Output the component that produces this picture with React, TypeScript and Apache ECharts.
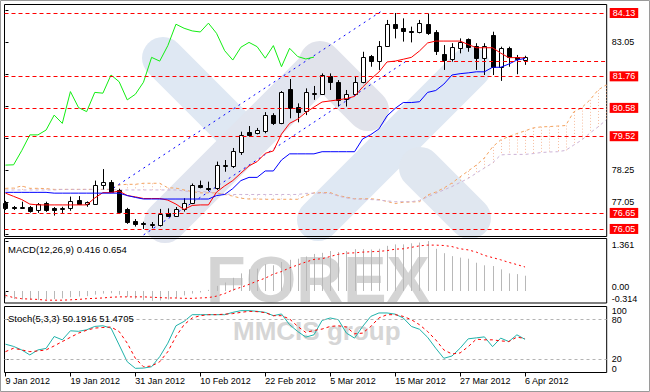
import React, { useEffect, useRef } from 'react';
import * as echarts from 'echarts';

const FONT = "'Liberation Sans', Arial, sans-serif";

// x range (bar index); bar 0 = 9 Jan 2012, bar 64 = 6 Apr 2012, cloud goes 26 bars ahead
const XMIN = -0.12;
const XMAX = 74.06;
const PMIN = 75.768;
const PMAX = 84.448;
const MACD_MIN = -0.327;
const MACD_MAX = 1.4305;

const tickBars = [0, 8, 16, 24, 32, 40, 48, 56, 64];
const tickLabels = ['9 Jan 2012', '19 Jan 2012', '31 Jan 2012', '10 Feb 2012', '22 Feb 2012', '5 Mar 2012', '15 Mar 2012', '27 Mar 2012', '6 Apr 2012'];

// open, high, low, close
const ohlc: number[][] = [
  [77.02, 77.10, 76.76, 76.84], [76.86, 76.91, 76.76, 76.85], [76.87, 77.07, 76.82, 76.88], [76.87, 76.91, 76.66, 76.72],
  [76.76, 77.02, 76.65, 76.98], [77.02, 77.07, 76.69, 76.76], [76.84, 76.87, 76.55, 76.76], [76.83, 76.88, 76.65, 76.84],
  [76.82, 77.26, 76.73, 77.11], [77.13, 77.28, 76.95, 76.98], [76.97, 77.08, 76.88, 77.06], [76.98, 77.86, 76.95, 77.70],
  [77.68, 78.29, 77.53, 77.80], [77.81, 77.88, 77.40, 77.42], [77.51, 77.55, 76.69, 76.70], [76.79, 76.84, 76.24, 76.32],
  [76.35, 76.42, 76.14, 76.22], [76.26, 76.32, 76.05, 76.24], [76.20, 76.31, 76.08, 76.22], [76.20, 76.80, 76.14, 76.61],
  [76.64, 76.82, 76.51, 76.55], [76.55, 76.87, 76.50, 76.79], [76.79, 77.20, 76.70, 77.03], [77.03, 77.75, 76.98, 77.70],
  [77.70, 77.86, 77.57, 77.61], [77.60, 77.82, 77.47, 77.59], [77.57, 78.57, 77.51, 78.44], [78.44, 78.63, 78.19, 78.45],
  [78.41, 79.08, 78.33, 78.98], [78.94, 79.69, 78.82, 79.57], [79.69, 79.90, 79.50, 79.57], [79.64, 79.83, 79.59, 79.75],
  [79.72, 80.42, 79.63, 80.31], [80.31, 80.38, 79.94, 80.00], [80.00, 81.21, 79.97, 81.19], [81.28, 81.66, 80.19, 80.59],
  [80.60, 80.75, 80.04, 80.44], [80.46, 81.31, 80.31, 81.16], [81.12, 81.40, 80.88, 81.13], [81.09, 81.87, 81.06, 81.81],
  [81.78, 81.87, 81.25, 81.56], [81.56, 81.62, 80.63, 80.88], [80.90, 81.25, 80.63, 81.09], [81.09, 81.75, 81.06, 81.54],
  [81.54, 82.68, 81.50, 82.47], [82.52, 82.56, 82.12, 82.33], [82.33, 83.08, 82.00, 82.91], [82.90, 83.87, 82.87, 83.71],
  [83.72, 84.13, 83.18, 83.56], [83.56, 83.93, 83.06, 83.46], [83.44, 83.62, 83.03, 83.42], [83.41, 83.87, 83.37, 83.75],
  [83.71, 84.11, 83.31, 83.37], [83.41, 83.49, 82.56, 82.72], [82.59, 82.93, 82.00, 82.37], [82.40, 83.00, 82.31, 82.85],
  [82.81, 83.18, 82.62, 83.03], [83.15, 83.18, 82.68, 82.87], [82.90, 83.00, 82.00, 82.44], [82.44, 83.00, 81.81, 82.91],
  [83.31, 83.43, 81.81, 82.12], [82.12, 82.87, 81.59, 82.81], [82.81, 82.87, 82.12, 82.50], [82.50, 82.56, 81.84, 82.41],
  [82.37, 82.53, 82.19, 82.48],
];

const tenkan = [
  77.39, 77.27, 77.15, 76.98, 76.95, 76.95, 76.95, 76.95, 76.95, 76.95,
  76.95, 77.21, 77.41, 77.41, 77.47, 77.30, 77.25, 77.19, 77.19, 77.19,
  77.13, 76.98, 76.78, 76.93, 76.95, 76.95, 77.43, 77.66, 77.86, 78.14,
  78.41, 78.57, 78.88, 78.97, 79.60, 80.00, 80.16, 80.41, 80.61, 80.80,
  80.84, 80.88, 80.93, 81.01, 81.36, 81.66, 81.92, 82.30, 82.33, 82.40,
  82.47, 82.71, 83.01, 83.08, 83.08, 83.08, 83.08, 82.95, 82.83, 82.83,
  82.83, 82.63, 82.46, 82.46, 82.45,
];

const kijun = [
  77.42, 77.42, 77.42, 77.42, 77.42, 77.42, 77.39, 77.39, 77.39, 77.39,
  77.39, 77.39, 77.39, 77.39, 77.39, 77.30, 77.23, 77.17, 77.17, 77.17,
  77.17, 77.17, 77.17, 77.17, 77.17, 77.17, 77.30, 77.34, 77.56, 77.86,
  77.98, 77.98, 78.22, 78.22, 78.63, 78.86, 78.86, 78.86, 78.86, 78.94,
  78.94, 78.94, 78.94, 78.94, 79.42, 79.58, 79.79, 80.28, 80.56, 80.78,
  80.78, 80.81, 81.16, 81.23, 81.47, 81.81, 81.86, 81.89, 81.93, 81.93,
  82.10, 82.10, 82.22, 82.37, 82.43,
];

const senkouA = [
  77.57, 77.58, 77.66, 77.57, 77.57, 77.56, 77.53, 77.53, 77.53, 77.53,
  77.53, 77.53, 77.53, 77.53, 77.70, 77.72, 77.72, 77.76, 77.76, 77.76,
  77.59, 77.58, 77.51, 77.45, 77.40, 77.40, 77.40, 77.34, 77.28, 77.20,
  77.17, 77.17, 77.16, 77.16, 77.16, 77.16, 77.16, 77.30, 77.40, 77.41,
  77.41, 77.30, 77.24, 77.18, 77.18, 77.18, 77.15, 77.08, 77.00, 77.05,
  77.06, 77.07, 77.32, 77.43, 77.58, 77.77, 78.00, 78.22, 78.44, 78.71,
  79.12, 79.38, 79.51, 79.62, 79.72, 79.83, 79.87, 79.88, 79.90, 79.92,
  80.43, 80.59, 80.88, 81.25, 81.44,
];

const senkouB = [
  77.51, 77.51, 77.51, 77.51, 77.51, 77.51, 77.51, 77.53, 77.53, 77.53,
  77.53, 77.53, 77.53, 77.53, 77.51, 77.51, 77.51, 77.51, 77.51, 77.51,
  77.51, 77.51, 77.47, 77.45, 77.45, 77.43, 77.40, 77.36, 77.34, 77.34,
  77.34, 77.34, 77.34, 77.34, 77.34, 77.34, 77.34, 77.38, 77.39, 77.39,
  77.38, 77.28, 77.21, 77.17, 77.16, 77.15, 77.13, 77.10, 77.07, 77.07,
  77.07, 77.12, 77.25, 77.38, 77.51, 77.64, 77.79, 77.94, 78.14, 78.33,
  78.52, 78.82, 78.84, 78.84, 78.84, 78.87, 78.91, 78.93, 78.94, 78.99,
  79.19, 79.38, 79.64, 79.87, 80.13,
];

const macdMain = [
  -0.20, -0.22, -0.23, -0.24, -0.24, -0.23, -0.22, -0.20, -0.17, -0.15,
  -0.14, -0.10, -0.07, -0.06, -0.10, -0.16, -0.21, -0.25, -0.27, -0.26,
  -0.23, -0.18, -0.12, -0.07, -0.04, 0.03, 0.14, 0.23, 0.36, 0.48,
  0.59, 0.61, 0.73, 0.70, 0.79, 0.85, 0.88, 0.94, 1.01, 1.04,
  1.09, 1.06, 1.09, 1.14, 1.14, 1.13, 1.15, 1.23, 1.27, 1.27,
  1.30, 1.32, 1.361, 1.15, 1.03, 0.95, 0.91, 0.88, 0.77, 0.70,
  0.68, 0.59, 0.48, 0.46, 0.416,
];

const macdSignal = [
  -0.12, -0.18, -0.21, -0.22, -0.23, -0.25, -0.25, -0.25, -0.24, -0.23,
  -0.21, -0.20, -0.19, -0.17, -0.16, -0.16, -0.16, -0.16, -0.17, -0.18,
  -0.19, -0.19, -0.20, -0.20, -0.19, -0.18, -0.14, -0.07, 0.03, 0.10,
  0.18, 0.27, 0.35, 0.46, 0.53, 0.63, 0.71, 0.79, 0.86, 0.88,
  0.94, 1.00, 1.03, 1.04, 1.06, 1.07, 1.08, 1.10, 1.14, 1.15,
  1.19, 1.23, 1.25, 1.25, 1.24, 1.21, 1.15, 1.12, 1.06, 0.97,
  0.91, 0.85, 0.78, 0.72, 0.654,
];

const stochMain = [
  42.9, 39.5, 34.2, 26.6, 34.2, 36.5, 54.5, 49.5, 63.2, 62.4,
  64.7, 69.8, 70.8, 67.3, 41.8, 16.3, 6.3, 6.7, 8.7, 24.0,
  44.4, 70.8, 77.4, 87.6, 87.6, 87.6, 87.6, 87.6, 91.1, 93.7,
  93.7, 92.7, 91.1, 86.1, 88.7, 72.4, 62.1, 53.6, 57.1, 78.9,
  82.6, 80.0, 59.7, 52.1, 69.8, 85.0, 90.2, 90.2, 88.4, 82.6,
  69.8, 65.5, 53.3, 36.8, 21.5, 25.0, 36.8, 51.0, 52.5, 54.0,
  39.2, 52.1, 46.9, 57.1, 50.19,
];

const stochSignal = [
  31.6, 36.8, 34.2, 31.6, 32.7, 34.2, 40.3, 46.9, 53.3, 59.7,
  64.0, 67.3, 68.2, 68.9, 62.1, 44.4, 21.5, 8.7, 9.8, 16.3,
  31.6, 54.5, 72.4, 82.6, 86.1, 87.6, 87.6, 88.4, 89.2, 91.1,
  92.7, 92.2, 90.7, 86.1, 86.1, 81.1, 69.8, 60.6, 63.7, 65.8,
  69.8, 70.8, 68.9, 58.6, 59.7, 69.8, 82.6, 87.6, 87.6, 85.0,
  80.0, 72.4, 62.1, 49.5, 34.2, 28.1, 29.6, 39.2, 50.5, 49.5,
  49.5, 47.9, 46.9, 53.6, 51.47,
];

const priceTicks = [75.85, 77.05, 78.25, 79.45, 80.65, 81.85, 83.05, 84.25];
const priceLabels = [77.05, 78.25, 83.05];
const levels = [84.13, 81.76, 80.58, 79.52, 76.65, 76.05];
const shortLevel = { fromBar: 47.5, value: 82.33 };
const channelUpper = [[13.29, 77.58], [46.52, 84.24]];
const channelLower = [[17.02, 75.83], [49.48, 82.35]];
const macdLabelsA = [0, 1.361];
const macdLabelsB = [-0.314];
const stochLabelsA = [20, 80];
const stochLabelsB = [0, 100];
const stochLevels = [80, 20];
const CHIKOU_SHIFT = 26;

function band(x1: number, y1: number, x2: number, y2: number, w: number, fill: string) {
  const len = Math.hypot(x2 - x1, y2 - y1);
  return {
    type: 'rect',
    x: (x1 + x2) / 2,
    y: (y1 + y2) / 2,
    rotation: -Math.atan2(y2 - y1, x2 - x1),
    shape: { x: -len / 2 - w / 2, y: -w / 2, width: len + w, height: w, r: w / 2 },
    style: { fill },
    z: -1,
    silent: true,
  };
}

function buildOption() {
  const closes = ohlc.map((d) => d[3]);
  const chikou = closes.slice(CHIKOU_SHIFT).map((v, i) => [i, v]);
  const candleData = ohlc.map((d, i) => [i, d[0], d[1], d[2], d[3]]);
  const cloudData = senkouA.map((a, i) => [i, a, senkouB[i]]);
  const pts = (arr: number[]) => arr.map((v, i) => [i, v]);
  const redLabel = {
    show: true,
    position: 'end',
    distance: 3,
    formatter: (p: any) => Number(p.value).toFixed(2),
    backgroundColor: '#ff0000',
    color: '#ffffff',
    padding: [1, 3, 0, 3],
    fontSize: 9,
    fontFamily: FONT,
  };

  const xBase = (gridIndex: number) => ({
    gridIndex,
    type: 'value',
    min: XMIN,
    max: XMAX,
    show: false,
  });

  const yAxisFor = (gridIndex: number, min: number, max: number, labels: number[], fmt: (v: number) => string, extra: any, showTicks: boolean) => ({
    type: 'value',
    position: 'right',
    gridIndex,
    min,
    max,
    axisLine: { show: false },
    splitLine: { show: false },
    axisTick: { show: showTicks, customValues: labels, length: 3, lineStyle: { color: '#000' } },
    axisLabel: {
      customValues: labels,
      formatter: fmt,
      fontSize: 9,
      lineHeight: 8,
      color: '#000',
      margin: 5,
      fontFamily: FONT,
      hideOverlap: false,
      ...extra,
    },
  });

  const macdFmt = (v: number) => (Math.abs(v) < 1e-9 ? '0.00' : v.toFixed(3));
  const stochFmt = (v: number) => String(Math.round(v));

  return {
    animation: false,
    backgroundColor: '#ffffff',
    textStyle: { fontFamily: FONT },
    grid: [
      { left: 4.5, right: 43.3, top: 4.5, height: 232, show: true, borderColor: '#000', borderWidth: 1, backgroundColor: 'transparent' },
      { left: 4.5, right: 43.3, top: 238.5, height: 64.5, show: true, borderColor: '#000', borderWidth: 1, backgroundColor: 'transparent' },
      { left: 4.5, right: 43.3, top: 306.5, height: 66, show: true, borderColor: '#000', borderWidth: 1, backgroundColor: 'transparent' },
    ],
    xAxis: [
      xBase(0),
      xBase(1),
      {
        gridIndex: 2,
        type: 'value',
        min: XMIN,
        max: XMAX,
        axisLine: { show: false },
        splitLine: { show: false },
        axisTick: { show: true, customValues: tickBars, length: 4, lineStyle: { color: '#000' } },
        axisLabel: {
          customValues: tickBars,
          formatter: (v: number) => tickLabels[tickBars.indexOf(Math.round(v))] || '',
          align: 'left',
          fontSize: 9,
          color: '#000',
          margin: 4,
          fontFamily: FONT,
        },
      },
    ],
    yAxis: [
      {
        type: 'value',
        position: 'right',
        gridIndex: 0,
        min: PMIN,
        max: PMAX,
        axisLine: { show: false },
        splitLine: { show: false },
        axisTick: { show: true, customValues: priceTicks, length: 3, lineStyle: { color: '#000' } },
        axisLabel: { customValues: priceLabels, formatter: (v: number) => v.toFixed(2), fontSize: 9, color: '#000', margin: 5, fontFamily: FONT },
      },
      yAxisFor(1, MACD_MIN, MACD_MAX, macdLabelsA, macdFmt, { verticalAlignMinLabel: 'bottom', verticalAlignMaxLabel: 'top' }, true),
      yAxisFor(2, 0, 100, stochLabelsA, stochFmt, { verticalAlign: 'middle' }, true),
      yAxisFor(1, MACD_MIN, MACD_MAX, macdLabelsB, macdFmt, { verticalAlign: 'bottom', verticalAlignMinLabel: 'bottom', verticalAlignMaxLabel: 'bottom' }, false),
      yAxisFor(2, 0, 100, stochLabelsB, stochFmt, { verticalAlignMinLabel: 'bottom', verticalAlignMaxLabel: 'top', padding: 0 }, false),
    ],
    graphic: {
      elements: [
        band(163, 58, 232, 127, 42, '#dfe8f3'),
        band(165, 222, 322, 65, 42, '#e1e5ef'),
        band(320, 62, 368, 110, 42, '#e1e3eb'),
        band(318, 220, 470, 68, 42, '#dfe8f3'),
        band(420, 168, 470, 218, 42, '#e0e7f0'),
        {
          type: 'text', x: 206, y: 279, z: -1, silent: true,
          style: { text: 'FOREX', fill: '#d4d4d4', fontSize: 65, fontWeight: 'bold', fontFamily: FONT, align: 'left', verticalAlign: 'middle' },
        },
        {
          type: 'text', x: 233, y: 331, z: -1, silent: true,
          style: { text: 'MMCIS group', fill: '#d6d6d6', fontSize: 26, fontWeight: 'bold', fontFamily: FONT, align: 'left', verticalAlign: 'middle' },
        },
        {
          type: 'text', x: 8, y: 249.5, z: 50, silent: true,
          style: { text: 'MACD(12,26,9) 0.416 0.654', fill: '#000', fontSize: 9.5, fontFamily: FONT, align: 'left', verticalAlign: 'middle' },
        },
        {
          type: 'text', x: 8, y: 318, z: 50, silent: true,
          style: { text: 'Stoch(5,3,3) 50.1916 51.4705', fill: '#000', fontSize: 9.5, fontFamily: FONT, align: 'left', verticalAlign: 'middle' },
        },
        {
          type: 'rect', z: 50, silent: true,
          shape: { x: 0.5, y: 0.5, width: 649, height: 391 },
          style: { fill: 'none', stroke: '#9a9a9a', lineWidth: 1 },
        },
      ],
    },
    series: [
      {
        name: 'levels',
        type: 'line',
        xAxisIndex: 0,
        yAxisIndex: 0,
        data: [[XMIN, PMIN]],
        symbol: 'none',
        lineStyle: { width: 0 },
        z: 1,
        markLine: {
          silent: true,
          symbol: ['none', 'none'],
          animation: false,
          lineStyle: { color: '#ff0000', type: [4, 3], width: 1 },
          label: redLabel,
          data: [
            ...levels.map((v) => ({ yAxis: v })),
            [
              { coord: [shortLevel.fromBar, shortLevel.value], label: { show: false } },
              { coord: [XMAX, shortLevel.value], label: { show: false } },
            ],
          ],
        },
      },
      {
        name: 'cloud',
        type: 'custom',
        xAxisIndex: 0,
        yAxisIndex: 0,
        z: 2,
        data: cloudData,
        encode: { x: 0, y: [1, 2] },
        renderItem: (params: any, api: any) => {
          const i = api.value(0);
          const a = api.value(1);
          const b = api.value(2);
          const pa = api.coord([i, a]);
          const pb = api.coord([i, b]);
          const x = Math.round(pa[0]) + 0.5;
          return {
            type: 'line',
            shape: { x1: x, y1: pa[1], x2: x, y2: pb[1] },
            style: { stroke: a >= b ? '#f4a880' : '#d8bfd8', lineWidth: 1, lineDash: [1, 2], opacity: 0.75 },
          };
        },
      },
      {
        name: 'Senkou A',
        type: 'line',
        xAxisIndex: 0,
        yAxisIndex: 0,
        data: pts(senkouA),
        symbol: 'none',
        z: 2,
        lineStyle: { color: '#f4a460', width: 1, type: [3, 3] },
      },
      {
        name: 'Senkou B',
        type: 'line',
        xAxisIndex: 0,
        yAxisIndex: 0,
        data: pts(senkouB),
        symbol: 'none',
        z: 2,
        lineStyle: { color: '#cdb3d6', width: 1, type: [3, 3] },
      },
      {
        name: 'channel upper',
        type: 'line',
        xAxisIndex: 0,
        yAxisIndex: 0,
        data: channelUpper,
        symbol: 'none',
        z: 2,
        lineStyle: { color: '#0000ff', width: 1, type: [2, 4] },
      },
      {
        name: 'channel lower',
        type: 'line',
        xAxisIndex: 0,
        yAxisIndex: 0,
        data: channelLower,
        symbol: 'none',
        z: 2,
        lineStyle: { color: '#0000ff', width: 1, type: [2, 4] },
      },
      {
        name: 'candles',
        type: 'custom',
        xAxisIndex: 0,
        yAxisIndex: 0,
        z: 3,
        data: candleData,
        encode: { x: 0, y: [1, 2, 3, 4] },
        renderItem: (params: any, api: any) => {
          const i = api.value(0);
          const o = api.value(1);
          const h = api.value(2);
          const l = api.value(3);
          const c = api.value(4);
          const pO = api.coord([i, o]);
          const pC = api.coord([i, c]);
          const pH = api.coord([i, h]);
          const pL = api.coord([i, l]);
          const x = Math.round(pO[0]) + 0.5;
          const top = Math.round(Math.min(pO[1], pC[1])) + 0.5;
          const bot = Math.round(Math.max(pO[1], pC[1])) + 0.5;
          const bull = c >= o;
          return {
            type: 'group',
            children: [
              { type: 'line', shape: { x1: x, y1: pH[1], x2: x, y2: pL[1] }, style: { stroke: '#000', lineWidth: 1 } },
              {
                type: 'rect',
                shape: { x: x - 2, y: top, width: 4, height: Math.max(1, bot - top) },
                style: { fill: bull ? '#ffffff' : '#000000', stroke: '#000', lineWidth: 1 },
              },
            ],
          };
        },
      },
      {
        name: 'Tenkan-sen',
        type: 'line',
        xAxisIndex: 0,
        yAxisIndex: 0,
        data: pts(tenkan),
        symbol: 'none',
        z: 4,
        lineStyle: { color: '#ff0000', width: 1 },
      },
      {
        name: 'Kijun-sen',
        type: 'line',
        xAxisIndex: 0,
        yAxisIndex: 0,
        data: pts(kijun),
        symbol: 'none',
        z: 4,
        lineStyle: { color: '#0000ff', width: 1 },
      },
      {
        name: 'Chikou Span',
        type: 'line',
        xAxisIndex: 0,
        yAxisIndex: 0,
        data: chikou,
        symbol: 'none',
        z: 4,
        lineStyle: { color: '#12ee12', width: 1 },
      },
      {
        name: 'MACD',
        type: 'custom',
        xAxisIndex: 1,
        yAxisIndex: 1,
        z: 2,
        data: pts(macdMain),
        encode: { x: 0, y: 1 },
        renderItem: (params: any, api: any) => {
          const i = api.value(0);
          const v = api.value(1);
          const p0 = api.coord([i, 0]);
          const p1 = api.coord([i, v]);
          const x = Math.round(p0[0]) + 0.5;
          return {
            type: 'line',
            shape: { x1: x, y1: p0[1], x2: x, y2: p1[1] },
            style: { stroke: '#b8b8b8', lineWidth: 1 },
          };
        },
      },
      {
        name: 'Signal',
        type: 'line',
        xAxisIndex: 1,
        yAxisIndex: 1,
        data: pts(macdSignal),
        symbol: 'none',
        z: 3,
        lineStyle: { color: '#ff0000', width: 1, type: [2, 3] },
      },
      {
        name: 'Stoch',
        type: 'line',
        xAxisIndex: 2,
        yAxisIndex: 2,
        data: pts(stochMain),
        symbol: 'none',
        z: 3,
        lineStyle: { color: '#20b2aa', width: 1 },
      },
      {
        name: 'Stoch signal',
        type: 'line',
        xAxisIndex: 2,
        yAxisIndex: 2,
        data: pts(stochSignal),
        symbol: 'none',
        z: 3,
        lineStyle: { color: '#ff0000', width: 1, type: [3, 3] },
        markLine: {
          silent: true,
          symbol: ['none', 'none'],
          animation: false,
          label: { show: false },
          lineStyle: { color: '#b4b4b4', type: [3, 3], width: 1 },
          data: stochLevels.map((v) => ({ yAxis: v })),
        },
      },
    ],
  };
}

export default function App() {
  const ref = useRef<HTMLDivElement>(null);
  useEffect(() => {
    document.body.style.margin = '0';
    if (!ref.current) return;
    const chart = echarts.init(ref.current, undefined, { renderer: 'svg' });
    chart.setOption(buildOption() as any);
    return () => {
      chart.dispose();
    };
  }, []);
  return <div ref={ref} style={{ width: 650, height: 392, background: '#ffffff' }} />;
}
